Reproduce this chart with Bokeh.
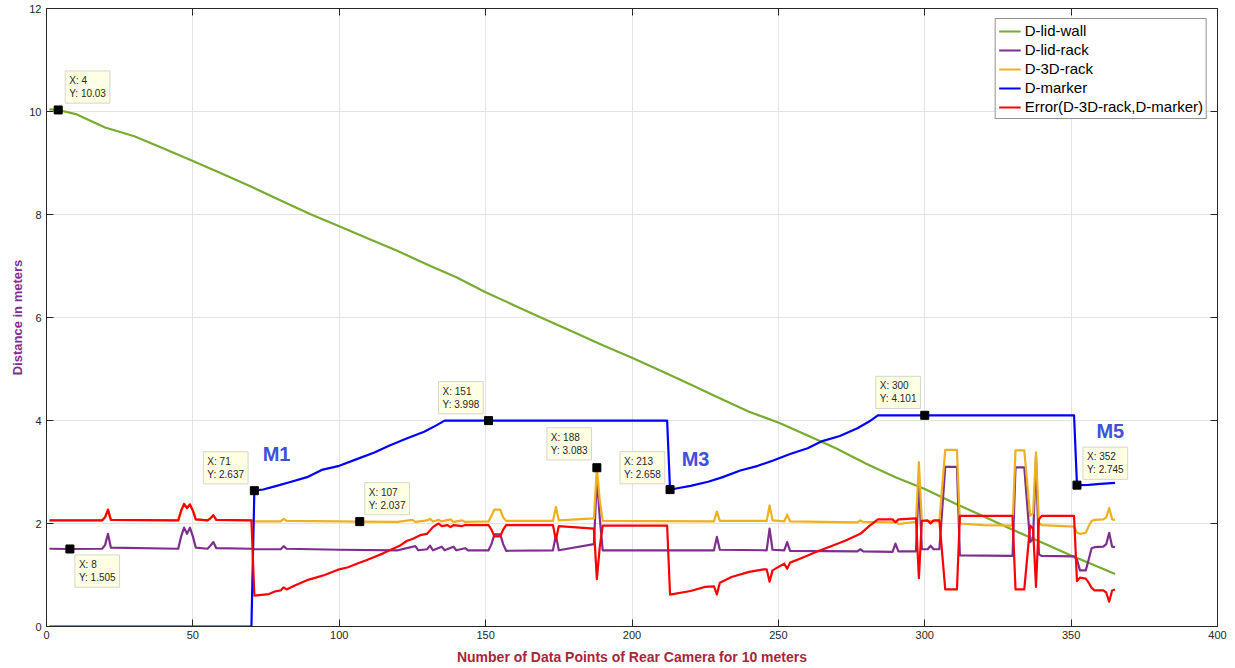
from bokeh.plotting import figure
from bokeh.models import Range1d, FixedTicker, LinearAxis, Label, Legend, LegendItem
from bokeh.embed import file_html
from bokeh.resources import INLINE

# ---------------- data ----------------
x_ticks = [0, 50, 100, 150, 200, 250, 300, 350, 400]
y_ticks = [0, 2, 4, 6, 8, 10, 12]

wall_x = [1, 4, 10, 20, 30, 40, 50, 60, 70, 80, 90, 100, 110, 120, 130, 140, 150, 160, 170, 180,
          190, 200, 210, 220, 230, 240, 250, 260, 270, 280, 290, 300, 310, 320, 330, 340, 350, 360, 365]
wall_y = [10.04, 10.03, 9.95, 9.69, 9.52, 9.28, 9.04, 8.79, 8.54, 8.27, 8.01, 7.77, 7.53, 7.29, 7.03,
          6.78, 6.49, 6.23, 5.97, 5.72, 5.46, 5.22, 4.96, 4.70, 4.43, 4.17, 3.96, 3.71, 3.45, 3.16,
          2.90, 2.67, 2.40, 2.14, 1.88, 1.63, 1.38, 1.14, 1.02]

lidrack_x = [1, 8, 19, 20, 21, 22, 45, 46, 47, 48, 49, 50, 51, 55, 56, 57, 58, 70, 71, 80, 81, 82,
             100, 120, 126, 127, 130, 131, 132, 135, 136, 139, 140, 143, 144, 151, 152, 153, 155, 156,
             157, 173, 174, 175, 187, 188, 189, 190, 212, 228, 229, 230, 246, 247, 248, 252, 253, 254,
             277, 278, 279, 289, 290, 291, 297, 298, 299, 301, 302, 303, 305, 307, 311, 312, 330, 331,
             334, 336, 337, 338, 339, 340, 351, 352, 353, 355, 356, 357, 358, 361, 362, 363, 364, 365]
lidrack_y = [1.51, 1.505, 1.51, 1.58, 1.80, 1.53, 1.51, 1.75, 1.92, 1.80, 1.92, 1.75, 1.53, 1.51, 1.57,
             1.64, 1.52, 1.51, 1.50, 1.50, 1.56, 1.51, 1.49, 1.48, 1.56, 1.48, 1.50, 1.57, 1.48, 1.55,
             1.48, 1.55, 1.48, 1.52, 1.48, 1.48, 1.60, 1.79, 1.79, 1.60, 1.47, 1.48, 1.77, 1.48, 1.60,
             2.90, 2.10, 1.48, 1.48, 1.48, 1.74, 1.49, 1.48, 1.90, 1.49, 1.48, 1.64, 1.47, 1.46, 1.50,
             1.46, 1.45, 1.61, 1.46, 1.46, 2.86, 1.50, 1.50, 1.57, 1.50, 1.50, 3.10, 3.10, 1.38, 1.37,
             3.09, 3.09, 1.64, 1.70, 3.30, 1.40, 1.37, 1.36, 1.30, 1.09, 1.09, 1.30, 1.52, 1.54, 1.55,
             1.60, 1.82, 1.55, 1.54]

rack3d_x = [1, 19, 20, 21, 22, 45, 46, 47, 48, 49, 50, 51, 55, 56, 57, 58, 70, 71, 80, 81, 82, 100,
            107, 120, 125, 126, 130, 131, 132, 134, 135, 138, 139, 142, 143, 151, 152, 153, 155, 156,
            157, 173, 174, 175, 187, 188, 189, 190, 228, 229, 230, 246, 247, 248, 252, 253, 254, 277,
            278, 279, 289, 290, 291, 297, 298, 299, 305, 307, 311, 312, 320, 330, 331, 334, 336, 337,
            338, 339, 340, 351, 352, 353, 355, 356, 357, 358, 361, 362, 363, 364, 365]
rack3d_y = [2.06, 2.06, 2.12, 2.27, 2.07, 2.06, 2.25, 2.38, 2.30, 2.37, 2.25, 2.08, 2.06, 2.10, 2.16,
            2.07, 2.06, 2.04, 2.04, 2.09, 2.05, 2.04, 2.037, 2.03, 2.07, 2.03, 2.06, 2.09, 2.04, 2.07,
            2.04, 2.08, 2.03, 2.06, 2.03, 2.04, 2.15, 2.27, 2.27, 2.12, 2.05, 2.05, 2.32, 2.06, 2.10,
            3.083, 2.45, 2.05, 2.04, 2.23, 2.05, 2.05, 2.35, 2.06, 2.04, 2.17, 2.04, 2.02, 2.06, 2.03,
            2.02, 2.05, 1.99, 2.03, 3.19, 2.05, 2.04, 3.43, 3.43, 2.00, 1.97, 1.96, 3.42, 3.42, 2.15,
            2.20, 3.38, 2.02, 1.97, 1.94, 1.82, 1.80, 1.82, 1.95, 2.05, 2.07, 2.08, 2.12, 2.30, 2.08,
            2.07]

marker_x = [1, 70, 71, 74, 78, 83, 89, 94, 100, 106, 112, 117, 123, 129, 133, 136, 151, 212, 213, 216,
            220, 226, 231, 237, 243, 248, 254, 260, 265, 271, 277, 281, 284, 300, 351, 352, 356, 360, 365]
marker_y = [0, 0, 2.637, 2.66, 2.72, 2.80, 2.90, 3.04, 3.12, 3.25, 3.38, 3.51, 3.65, 3.78, 3.90, 3.998,
            3.998, 3.998, 2.658, 2.69, 2.73, 2.81, 2.90, 3.03, 3.12, 3.22, 3.35, 3.46, 3.60, 3.70, 3.85,
            3.98, 4.101, 4.101, 4.101, 2.745, 2.75, 2.77, 2.79]

error_x = [1, 19, 20, 21, 22, 45, 46, 47, 48, 49, 50, 51, 55, 56, 57, 58, 70, 71, 76, 78, 80, 81, 82,
           85, 89, 92, 95, 100, 103, 106, 109, 112, 115, 118, 121, 123, 125, 128, 130, 132, 133, 134,
           135, 137, 138, 139, 142, 143, 151, 152, 153, 155, 156, 157, 173, 174, 175, 187, 188, 189,
           190, 212, 213, 220, 225, 228, 229, 230, 234, 240, 245, 246, 247, 248, 252, 253, 254, 258,
           263, 268, 273, 278, 281, 284, 289, 290, 291, 297, 298, 299, 301, 302, 303, 305, 307, 311,
           312, 330, 331, 334, 336, 337, 338, 339, 340, 351, 352, 353, 355, 356, 357, 358, 361, 362,
           363, 364, 365]
error_y = [2.06, 2.06, 2.12, 2.27, 2.07, 2.06, 2.25, 2.38, 2.30, 2.37, 2.25, 2.08, 2.06, 2.10, 2.16,
           2.07, 2.06, 0.60, 0.63, 0.68, 0.70, 0.76, 0.72, 0.80, 0.90, 0.95, 1.00, 1.11, 1.15, 1.22,
           1.28, 1.35, 1.42, 1.50, 1.58, 1.66, 1.70, 1.78, 1.80, 1.93, 1.97, 2.00, 1.95, 1.97, 1.93,
           1.97, 1.95, 1.97, 1.97, 1.88, 1.75, 1.75, 1.88, 1.97, 1.97, 1.68, 1.95, 1.90, 0.92, 1.55,
           1.96, 1.96, 0.62, 0.69, 0.77, 0.78, 0.62, 0.85, 0.96, 1.06, 1.11, 1.11, 0.87, 1.09, 1.22,
           1.12, 1.24, 1.33, 1.45, 1.56, 1.67, 1.80, 1.95, 2.08, 2.08, 2.02, 2.08, 2.10, 0.94, 2.05,
           2.06, 2.00, 2.06, 2.06, 0.72, 0.72, 2.15, 2.15, 0.72, 0.72, 1.96, 1.90, 0.77, 2.08, 2.15,
           2.15, 0.88, 0.95, 0.93, 0.85, 0.75, 0.70, 0.70, 0.66, 0.48, 0.70, 0.72]

tip_x = [4, 8, 71, 107, 151, 188, 213, 300, 352]
tip_y = [10.03, 1.505, 2.637, 2.037, 3.998, 3.083, 2.658, 4.101, 2.745]

mark_names = ["M1", "M3", "M5"]
mark_x = [78.6, 221.7, 363.4]
mark_y = [3.35, 3.25, 3.79]

series_names = ["D-lid-wall", "D-lid-rack", "D-3D-rack", "D-marker", "Error(D-3D-rack,D-marker)"]

# ---------------- styling ----------------
FONT = "Liberation Sans"
AX = "#262626"
colors = ["#77AC30", "#7E2F8E", "#EDB120", "#0000FF", "#FF0000"]
# screen offsets of each data-tip box (top-left corner) relative to its point
tip_offsets = [(7, 39), (5, -6), (-51, 39), (5, 39), (-50, 39), (-50, 40), (-50, 38), (-49, 39), (6, 38)]

p = figure(width=1227, height=667, output_backend="svg", toolbar_location=None,
           x_range=Range1d(0, 400), y_range=Range1d(0, 12),
           min_border_left=46, min_border_right=10, min_border_top=8, min_border_bottom=0)
p.background_fill_color = "white"
p.border_fill_color = "white"
p.outline_line_color = AX
p.outline_line_width = 1

for ax in (p.xaxis[0], p.yaxis[0]):
    ax.axis_line_color = AX
    ax.major_tick_line_color = AX
    ax.major_tick_in = 7
    ax.major_tick_out = 0
    ax.minor_tick_line_color = None
    ax.major_label_text_font = FONT
    ax.major_label_text_font_size = "11px"
    ax.major_label_text_color = AX
    ax.axis_label_text_font = FONT
    ax.axis_label_text_font_style = "bold"

p.xaxis[0].ticker = FixedTicker(ticks=x_ticks)
p.yaxis[0].ticker = FixedTicker(ticks=y_ticks)
p.xaxis[0].axis_label = "Number of Data Points of Rear Camera for 10 meters"
p.xaxis[0].axis_label_text_color = "#A6283C"
p.xaxis[0].axis_label_text_font_size = "14px"
p.xaxis[0].major_label_standoff = 4
p.xaxis[0].axis_label_standoff = 7
p.yaxis[0].axis_label = "Distance in meters"
p.yaxis[0].axis_label_text_color = "#7E2F8E"
p.yaxis[0].axis_label_text_font_size = "13px"
p.yaxis[0].major_label_standoff = 5
p.yaxis[0].axis_label_standoff = 1

for loc, tk in (("right", y_ticks), ("above", x_ticks)):
    a = LinearAxis(ticker=FixedTicker(ticks=tk))
    a.axis_line_color = AX
    a.major_tick_line_color = AX
    a.major_tick_in = 7
    a.major_tick_out = 0
    a.minor_tick_line_color = None
    a.major_label_overrides = {t: "" for t in tk}
    a.major_label_standoff = 0
    p.add_layout(a, loc)

p.xgrid.ticker = FixedTicker(ticks=x_ticks)
p.ygrid.ticker = FixedTicker(ticks=y_ticks)
p.xgrid.grid_line_color = "#e3e3e3"
p.ygrid.grid_line_color = "#e3e3e3"

all_x = [wall_x, lidrack_x, rack3d_x, marker_x, error_x]
all_y = [wall_y, lidrack_y, rack3d_y, marker_y, error_y]
items = []
for name, xs, ys, c in zip(series_names, all_x, all_y, colors):
    r = p.line(xs, ys, line_color=c, line_width=2.2, line_join="round")
    items.append(LegendItem(label=name, renderers=[r]))

# data tips
p.scatter(tip_x, tip_y, marker="square", size=8, fill_color="black", line_color="black")
for (tx, ty), (dx, dy) in zip(zip(tip_x, tip_y), tip_offsets):
    lab = Label(x=tx, y=ty, x_offset=dx, y_offset=dy, text=f"X: {tx}\nY: {ty:g}",
                text_align="left", text_baseline="top", text_font=FONT,
                text_font_size="10px", text_color="#262626",
                background_fill_color="#FFFFE4", border_line_color="#D6D6C8",
                border_line_width=1, padding=4)
    p.add_layout(lab)

for name, mx, my in zip(mark_names, mark_x, mark_y):
    p.add_layout(Label(x=mx, y=my, text=name, text_align="center", text_baseline="middle",
                       text_font=FONT, text_font_style="bold", text_font_size="20px",
                       text_color="#3F51D6"))

legend = Legend(items=items, location="top_right")
legend.label_text_font = FONT
legend.label_text_font_size = "15px"
legend.label_text_color = "#000000"
legend.border_line_color = AX
legend.border_line_width = 1
legend.background_fill_alpha = 1
legend.glyph_width = 22
legend.glyph_height = 16
legend.label_height = 16
legend.label_standoff = 4
legend.spacing = 2
legend.padding = 3
legend.margin = 10
p.add_layout(legend)

open("out.html", "w").write(file_html(p, INLINE))
